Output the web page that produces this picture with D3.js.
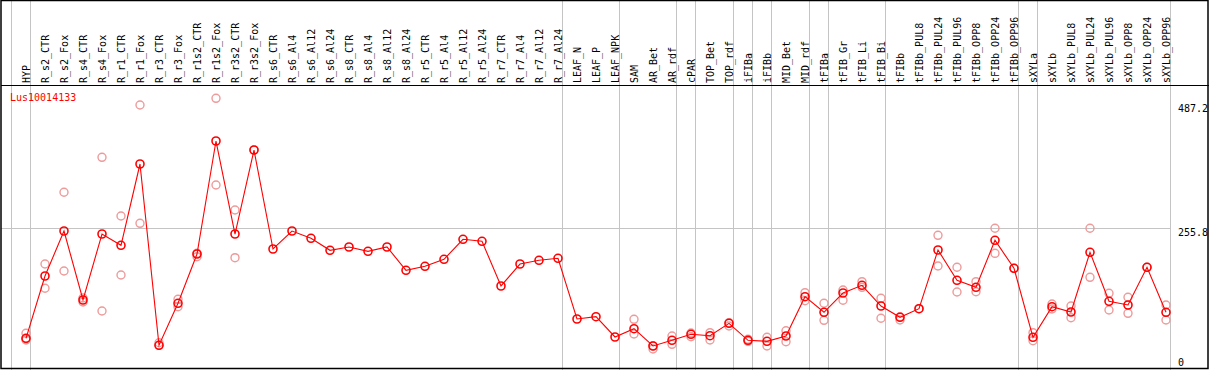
<!DOCTYPE html>
<html>
<head>
<meta charset="utf-8">
<script src="https://cdn.jsdelivr.net/npm/d3@7"></script>
<style>
  body { margin: 0; background: #fff; }
  svg { display: block; }
  text { font-family: "DejaVu Sans Mono", monospace; font-size: 10px; }
</style>
</head>
<body>
<div id="chart"></div>
<script>
// sample labels (one column each)
const samples = ['HYP','R_s2_CTR','R_s2_Fox','R_s4_CTR','R_s4_Fox','R_r1_CTR','R_r1_Fox','R_r3_CTR','R_r3_Fox',
  'R_r1s2_CTR','R_r1s2_Fox','R_r3s2_CTR','R_r3s2_Fox','R_s6_CTR','R_s6_Al4','R_s6_Al12','R_s6_Al24',
  'R_s8_CTR','R_s8_Al4','R_s8_Al12','R_s8_Al24','R_r5_CTR','R_r5_Al4','R_r5_Al12','R_r5_Al24',
  'R_r7_CTR','R_r7_Al4','R_r7_Al12','R_r7_Al24','LEAF_N','LEAF_P','LEAF_NPK','SAM','AR_Bet','AR_rdf',
  'cPAR','TOP_Bet','TOP_rdf','iFIBa','iFIBb','MID_Bet','MID_rdf','tFIBa','tFIB_Gr','tFIB_Li','tFIB_Bi',
  'tFIBb','tFIBb_PUL8','tFIBb_PUL24','tFIBb_PUL96','tFIBb_OPP8','tFIBb_OPP24','tFIBb_OPP96',
  'sXYLa','sXYLb','sXYLb_PUL8','sXYLb_PUL24','sXYLb_PUL96','sXYLb_OPP8','sXYLb_OPP24','sXYLb_OPP96'];

// column count of each tissue group (separators drawn between groups)
const groupSizes = [1, 28, 3, 3, 1, 2, 1, 1, 2, 1, 3, 7, 1, 7];

// mean expression per sample
const means = [49.8,166.1,250.1,121.3,244.5,223.4,375.2,36.8,115.2,207.2,418.1,244.5,401.3,216.5,250.1,236.5,214.1,
  220.3,212.2,220.3,176.8,184.2,197.3,234.6,230.9,147.5,188.5,195.4,199.2,85.9,90.2,52.3,67.8,35.5,46.1,
  57.3,54.7,77.8,46.1,44.2,54.1,127.5,98.4,134.4,148.8,110.1,89.0,105.1,214.7,158.1,145.0,232.8,180.5,
  51.7,108.8,98.9,210.4,118.9,112.0,182.4,98.4];

// individual replicates per sample
const replicates = [[59.2,46.7,49],[188.5,143.2],[322.4,175.5],[125.1,117.6],[387.7,100.8],[278.1,168.0],[485.3,264.5],
  [41.6,36.8],[122.6,108.8],[202.2,208.5],[497.8,336.0],[289.3,200.3],[401.3],[],[],[],[],
  [],[],[],[],[],[],[],[],[],[],[],[],[],[],[],
  [85.3,57.9],[29.9,36.0],[54.1,38.6],[59.7,52.8],[60.3,46.7],[79.0,72.8],[48.0,44.2],[51.7,35.5],[64.0,43.5],
  [135.0,120.0],[115.2,83.4],[140.0,120.8],[155.5,145.0],[124.5,87.2],[84.0,90],[105.1],[242.1,184.8],[182.4,136.3],
  [155.5,136.8],[255.2,208.5],[180.5],[60.3,45.4],[113.9,104.5],[110.1,88.3],[255.2,163.7],[133.8,102.7],
  [126.4,96.5],[182.4],[112.0,84.0]];

const geneName = 'Lus10014133';
const yTicks = [487.2, 255.8, 0];

(function(){
  const width = 1209, height = 370;
  const headerBottom = 85;
  const svg = d3.select('#chart').append('svg').attr('width', width).attr('height', height);

  const x = d3.scalePoint().domain(samples).range([26, 1166]);
  const step = x.step();
  const y = d3.scaleLinear().domain([0, 487.2]).range([365, 104]);

  // vertical group separators (one before the first column, then after each group)
  const sepX = [x(samples[0]) - step + 4.5];
  let acc = 0;
  groupSizes.forEach(n => { acc += n; sepX.push(x(samples[acc - 1]) + 4.5); });
  svg.append('g').selectAll('line').data(sepX).enter().append('line')
    .attr('x1', d => d).attr('x2', d => d).attr('y1', 0).attr('y2', height)
    .attr('stroke', '#c4c4c4').attr('stroke-width', 1);

  // horizontal gridline at the middle tick
  svg.append('line')
    .attr('x1', 1).attr('x2', 1170).attr('y1', Math.round(y(255.8)) + 0.5).attr('y2', Math.round(y(255.8)) + 0.5)
    .attr('stroke', '#c4c4c4').attr('stroke-width', 1);

  // header: rotated sample labels
  svg.append('g').selectAll('text').data(samples).enter().append('text')
    .attr('transform', d => `translate(${x(d)},83) rotate(-90)`)
    .attr('dy', '0.35em')
    .attr('fill', '#000')
    .text(d => d);

  svg.append('line').attr('x1', 1).attr('x2', width).attr('y1', headerBottom + 0.5).attr('y2', headerBottom + 0.5)
    .attr('stroke', '#000').attr('stroke-width', 1.2);

  // y tick labels at right, top of text sits on the value line
  svg.append('g').selectAll('text').data(yTicks).enter().append('text')
    .attr('x', 1178)
    .attr('y', d => Math.min(y(d), 358))
    .attr('dy', '0.8em')
    .attr('fill', '#000')
    .text(d => d);

  // gene title
  svg.append('text').attr('x', 10).attr('y', 101).attr('fill', '#ff0000').text(geneName);

  // replicate circles
  const repData = [];
  replicates.forEach((reps, i) => reps.forEach(v => repData.push({ s: samples[i], v })));
  svg.append('g').selectAll('circle').data(repData).enter().append('circle')
    .attr('cx', d => x(d.s)).attr('cy', d => y(d.v)).attr('r', 4)
    .attr('fill', 'none').attr('stroke', '#ee9a9a').attr('stroke-width', 1.4);

  // mean line
  const line = d3.line().x((d, i) => x(samples[i])).y(d => y(d));
  svg.append('path').datum(means).attr('d', line)
    .attr('fill', 'none').attr('stroke', '#ff0000').attr('stroke-width', 1.1);

  // mean circles
  svg.append('g').selectAll('circle').data(means).enter().append('circle')
    .attr('cx', (d, i) => x(samples[i])).attr('cy', d => y(d)).attr('r', 4)
    .attr('fill', 'none').attr('stroke', '#ff0000').attr('stroke-width', 1.6);

  // outer frame
  svg.append('rect').attr('x', 1).attr('y', 0.5).attr('width', 1207).attr('height', 368)
    .attr('fill', 'none').attr('stroke', '#000').attr('stroke-width', 1.5);
})();
</script>
</body>
</html>
